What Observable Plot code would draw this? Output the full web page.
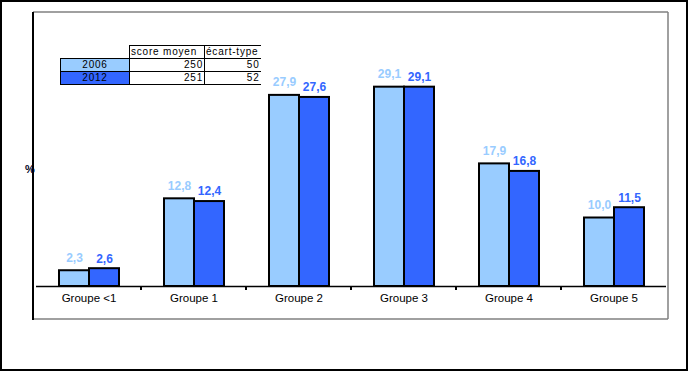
<!DOCTYPE html>
<html>
<head>
<meta charset="utf-8">
<script src="https://cdn.jsdelivr.net/npm/d3@7"></script>
<script src="https://cdn.jsdelivr.net/npm/@observablehq/plot@0.6"></script>
<style>
  html, body { margin: 0; padding: 0; background: #fff; }
  #wrap { position: relative; width: 688px; height: 371px; overflow: hidden; font-family: "Liberation Sans", Arial, sans-serif; }
  #border { position: absolute; left: 0; top: 0; width: 688px; height: 371px; box-sizing: border-box; border: 2px solid #000; pointer-events: none; }
  #chart { position: absolute; left: 0; top: 0; }
  #pct { position: absolute; left: 25px; top: 163px; font-size: 11px; font-weight: bold; color: #000022; }
  #tbl { position: absolute; left: 60px; top: 45px; }
  #tbl table { border-collapse: collapse; font-size: 10px; letter-spacing: 0.8px; font-family: "Liberation Sans", Arial, sans-serif; table-layout: fixed; width: 200px; }
  #tbl td { height: 12px; padding: 0 1px; line-height: 12px; white-space: nowrap; overflow: visible; box-sizing: border-box; }
</style>
</head>
<body>
<div id="wrap">
  <div id="chart"></div>
  <div id="pct">%</div>
  <div id="tbl"></div>
  <div id="border"></div>
</div>
<script>
const groups = ["Groupe <1", "Groupe 1", "Groupe 2", "Groupe 3", "Groupe 4", "Groupe 5"];
const years = ["2006", "2012"];
const values2006 = [2.3, 12.8, 27.9, 29.1, 17.9, 10.0];
const values2012 = [2.6, 12.4, 27.6, 29.1, 16.8, 11.5];
const tableHeaders = ["", "score moyen", "écart-type"];
const scoreMoyen = [250, 251];
const ecartType = [50, 52];
const colors = ["#99CCFF", "#3366FF"];

const data = groups.flatMap((g, i) => [
  {group: g, year: "2006", value: values2006[i]},
  {group: g, year: "2012", value: values2012[i]}
]);
const fmt = d => d.value.toFixed(1).replace(".", ",");

const W = 688, H = 371, mL = 33, mR = 20, mT = 12, mB = 85;

const chart = Plot.plot({
  width: W, height: H,
  marginLeft: mL, marginRight: mR, marginTop: mT, marginBottom: mB,
  style: {fontFamily: "Liberation Sans, Arial, sans-serif", fontSize: "11.5px", color: "#000", background: "transparent"},
  fx: {domain: groups, padding: 0, label: null, tickSize: 0, tickPadding: 7},
  x: {domain: years, paddingInner: 0, paddingOuter: 0.73, axis: null},
  y: {domain: [0, 40], axis: null},
  color: {domain: years, range: colors},
  marks: [
    Plot.barY(data, {fx: "group", x: "year", y: "value", fill: "year", stroke: "#000", strokeWidth: 2}),
    Plot.ruleY([0], {stroke: "#000", strokeWidth: 1.5}),
    Plot.text(data.filter(d => d.year === "2006"), {fx: "group", x: "year", y: "value", text: fmt, fill: "year", dy: -13, fontSize: 12, fontWeight: "bold"}),
    Plot.text(data.filter(d => d.year === "2012"), {fx: "group", x: "year", y: "value", text: fmt, fill: "year", dy: -10, fontSize: 12, fontWeight: "bold"})
  ]
});
document.getElementById("chart").appendChild(chart);

// frame lines and boundary ticks
const svg = d3.select(chart);
const fx = chart.scale("fx");
const y = chart.scale("y");
const y0 = y.apply(0), yTop = y.apply(40);
const xLeft = mL, xRight = W - mR, yBottom = 319;
const g = svg.append("g");
g.append("line").attr("x1", xLeft).attr("x2", xRight).attr("y1", yTop).attr("y2", yTop).attr("stroke", "#808080").attr("stroke-width", 1.5);
g.append("line").attr("x1", xRight).attr("x2", xRight).attr("y1", yTop).attr("y2", yBottom).attr("stroke", "#808080").attr("stroke-width", 1.5);
g.append("line").attr("x1", xLeft).attr("x2", xRight).attr("y1", yBottom).attr("y2", yBottom).attr("stroke", "#808080").attr("stroke-width", 1.5);
g.append("line").attr("x1", xLeft).attr("x2", xLeft).attr("y1", yTop).attr("y2", yBottom + 1).attr("stroke", "#000").attr("stroke-width", 2);
groups.slice(1).forEach(gr => {
  const bx = fx.apply(gr);
  g.append("line").attr("x1", bx).attr("x2", bx).attr("y1", y0).attr("y2", y0 + 4).attr("stroke", "#000").attr("stroke-width", 2);
});

// table
const rows = [tableHeaders].concat(years.map((yr, i) => [yr, scoreMoyen[i], ecartType[i]]));
const table = d3.select("#tbl").append("table");
const colW = [69, 75, 56];
const cg = table.append("colgroup");
colW.forEach(w => cg.append("col").style("width", w + "px"));
rows.forEach((r, ri) => {
  const tr = table.append("tr");
  r.forEach((c, ci) => {
    const td = tr.append("td").text(c);
    if (ri === 0) {
      if (ci > 0) td.style("border-top", "1px solid #000").style("border-left", "1px solid #000").style("text-align", "left");
    } else {
      td.style("border", "1px solid #000");
      if (ci === 0) td.style("background", colors[ri - 1]).style("text-align", "center");
      else td.style("text-align", "right");
      if (ci === 2) td.style("border-right", "none");
    }
  });
});
</script>
</body>
</html>
